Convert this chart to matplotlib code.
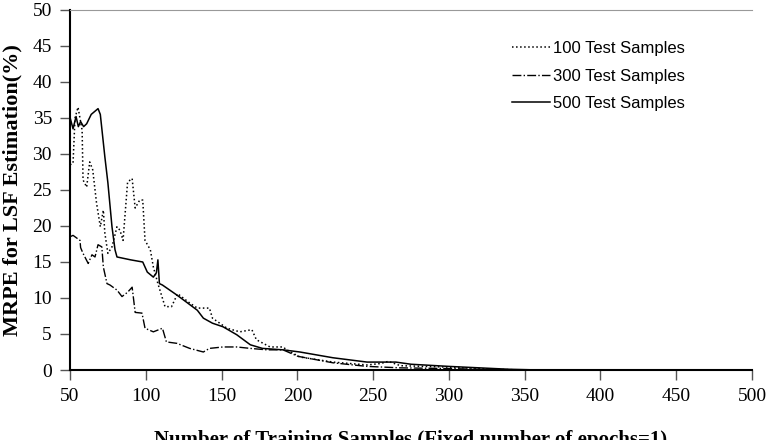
import matplotlib.pyplot as plt

# values
x_100 = [50, 52, 53.3, 55.3, 58, 58.6, 61, 63, 65, 67.5, 70, 72, 73, 75, 77.7, 81, 83, 85,
         88, 91, 93, 96, 98, 99.5, 103, 105, 108, 112.7, 117, 121, 129, 134, 142, 144,
         153.6, 162, 170, 173, 182, 190.5, 193, 201.7, 223.5, 246, 255, 260, 268, 300,
         330, 350, 500]
y_100 = [28.5, 28.7, 35, 36.5, 33.3, 26.4, 25.4, 28.9, 27.8, 23.2, 19.9, 22.2, 19, 16.2,
         17.1, 19.9, 19.4, 18, 26.1, 26.6, 22.5, 23.6, 23.6, 18, 16.7, 14.3, 12, 8.8, 8.8,
         10.6, 9.3, 8.6, 8.6, 7.2, 5.8, 5.3, 5.6, 4.2, 3.2, 3.2, 2.8, 1.8, 1.1, 0.7, 0.9,
         1.2, 0.6, 0.4, 0.1, 0.0, 0.0]

x_300 = [50, 52, 56.6, 57, 58.6, 62, 64.5, 66.5, 68.5, 71, 72, 74.4, 76.4, 81, 84.3, 88,
         91, 93, 97.5, 99.5, 105, 111, 113.6, 120.6, 129, 138, 142, 151, 160, 169, 180,
         190.5, 200.4, 223.5, 246, 268, 300, 330, 350, 500]
y_300 = [18.5, 18.7, 18, 17, 16.2, 14.8, 16, 15.7, 17.4, 17.1, 14.3, 12, 11.8, 11.1, 10.2,
         10.8, 11.5, 8, 7.9, 5.8, 5.3, 5.8, 3.9, 3.7, 3.0, 2.5, 3.0, 3.2, 3.2, 3.0, 2.8,
         2.8, 1.9, 1.0, 0.5, 0.3, 0.2, 0.05, 0.0, 0.0]

x_500 = [50, 52, 54, 55.5, 57, 59, 61, 64, 68.5, 70, 73, 75, 77.7, 79.7, 81, 90, 98, 101,
         105, 107, 108, 109, 111, 120.6, 127, 134, 138, 144, 151, 160, 169, 177, 190.5,
         201.7, 223.5, 246, 265, 275, 300, 320, 340, 360, 500]
y_500 = [35.1, 33.5, 35.2, 33.8, 34.5, 33.8, 34.2, 35.5, 36.3, 35.5, 29.6, 26, 19.9, 16.7,
         15.7, 15.3, 15, 13.6, 12.9, 13.5, 15.3, 12, 11.8, 10.4, 9.4, 8.3, 7.2, 6.5, 6,
         4.9, 3.5, 3.0, 2.8, 2.5, 1.7, 1.1, 1.1, 0.8, 0.5, 0.3, 0.1, 0.0, 0.0]

x_ticks = [50, 100, 150, 200, 250, 300, 350, 400, 450, 500]
y_ticks = [0, 5, 10, 15, 20, 25, 30, 35, 40, 45, 50]

serif = ['Liberation Serif', 'DejaVu Serif']
sans = ['Liberation Sans', 'DejaVu Sans']

fig = plt.figure(figsize=(7.7, 4.4), dpi=100)
ax = fig.add_axes([70 / 770, 70 / 440, 682 / 770, 360 / 440])

ax.plot(x_100, y_100, linestyle=':', color='black', linewidth=1.1, label='100 Test Samples')
ax.plot(x_300, y_300, linestyle='-.', color='black', linewidth=1.0, label='300 Test Samples')
ax.plot(x_500, y_500, linestyle='-', color='black', linewidth=1.1, label='500 Test Samples')

ax.set_xlim(50, 500)
ax.set_ylim(0, 50)
ax.set_xticks(x_ticks)
ax.set_yticks(y_ticks)
ax.tick_params(direction='out', length=7, width=1, color='#555555', pad=6)
for lab in ax.get_xticklabels() + ax.get_yticklabels():
    lab.set_family(serif)
    lab.set_fontsize(14)

ax.spines['left'].set_color('black')
ax.spines['bottom'].set_color('black')
ax.spines['left'].set_linewidth(1.5)
ax.spines['bottom'].set_linewidth(1.5)
ax.spines['top'].set_color('#999999')
ax.spines['right'].set_visible(False)

ax.set_ylabel('MRPE for LSF Estimation(%)', family=serif, fontsize=16,
              fontweight='bold', labelpad=7)
ax.set_xlabel('Number of Training Samples (Fixed number of epochs=1)', family=serif,
              fontsize=15, fontweight='bold', labelpad=18)

leg = ax.legend(loc='upper right', bbox_to_anchor=(0.923, 0.955), frameon=False,
                prop={'family': sans, 'size': 12}, handlelength=2.3,
                handletextpad=0.15, labelspacing=0.75)

fig.savefig('out.png', dpi=100)
